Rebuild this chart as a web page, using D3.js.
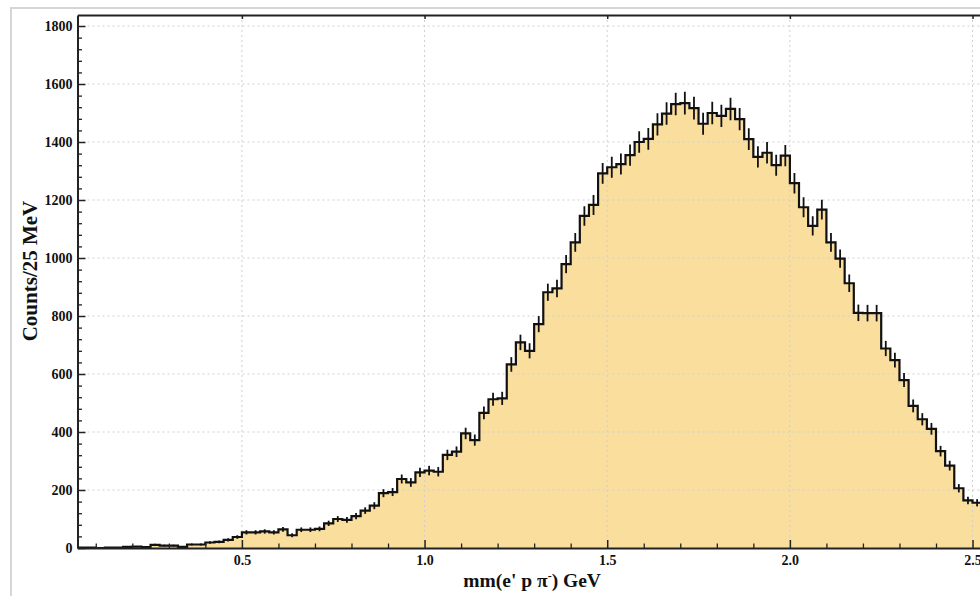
<!DOCTYPE html>
<html>
<head>
<meta charset="utf-8">
<script src="https://cdn.jsdelivr.net/npm/d3@7"></script>
<style>
  html, body { margin: 0; padding: 0; background: #fff; overflow: hidden; }
  svg { display: block; }
  text { font-family: "Liberation Serif", "Times New Roman", serif; font-weight: bold; fill: #111; }
</style>
</head>
<body>
<svg id="chart" width="980" height="596"></svg>
<script>
// ---------------- DATA ----------------
const binStart = 0.05;      // GeV, low edge of first bin
const binWidth = 0.025;     // GeV (25 MeV)
const counts = [
  1, 1, 0, 1, 1, 4, 5, 3, 11, 8,
  8, 4, 12, 12, 19, 21, 28, 38, 54, 54,
  57, 54, 64, 44, 63, 63, 66, 85, 100, 97,
  110, 129, 146, 189, 193, 238, 226, 261, 267, 263,
  321, 332, 395, 372, 466, 513, 516, 633, 709, 680,
  772, 882, 895, 979, 1054, 1145, 1183, 1292, 1313, 1324,
  1355, 1400, 1411, 1461, 1498, 1531, 1534, 1517, 1463, 1500,
  1490, 1514, 1479, 1410, 1349, 1363, 1320, 1353, 1258, 1175,
  1111, 1167, 1054, 998, 913, 811, 810, 810, 688, 648,
  579, 490, 444, 411, 334, 284, 206, 164, 156, 125
];
const xTicks = [0.5, 1.0, 1.5, 2.0, 2.5];
const xMinorTicks = d3.range(1, 26).map(i => +(i * 0.1).toFixed(1));
const yTicks = [0, 200, 400, 600, 800, 1000, 1200, 1400, 1600, 1800];
const yMinorTicks = d3.range(0, 46).map(i => i * 40);
const yTitle = "Counts/25 MeV";

// ---------------- LAYOUT ----------------
const svg = d3.select("#chart");
const plot = { left: 77.5, top: 15, bottom: 548, right: 990.8 };
const xDomain = [binStart, binStart + counts.length * binWidth];
const x = d3.scaleLinear().domain(xDomain).range([plot.left, plot.right]);
const y = d3.scaleLinear().domain([0, 1838]).range([plot.bottom, plot.top]);

const bins = counts.map((c, i) => ({ x0: binStart + i * binWidth, x1: binStart + (i + 1) * binWidth, c }));
const stepPts = bins.map(b => [b.x0, b.c]).concat([[bins[bins.length - 1].x1, bins[bins.length - 1].c]]);

// outer light frame
svg.append("rect")
  .attr("x", 11).attr("y", 8).attr("width", 1100).attr("height", 700)
  .attr("fill", "none").attr("stroke", "#d6d6d6").attr("stroke-width", 2);

svg.append("defs").append("clipPath").attr("id", "pc")
  .append("rect").attr("x", plot.left).attr("y", plot.top)
  .attr("width", plot.right - plot.left).attr("height", plot.bottom - plot.top);

const g = svg.append("g").attr("clip-path", "url(#pc)");

// fill
g.append("path")
  .datum(stepPts)
  .attr("fill", "#f9de9e")
  .attr("d", d3.area().curve(d3.curveStepAfter).x(d => x(d[0])).y0(y(0)).y1(d => y(d[1])));

// grid
g.selectAll("line.hg").data(yTicks.filter(v => v > 0)).enter().append("line")
  .attr("x1", plot.left).attr("x2", plot.right)
  .attr("y1", d => y(d)).attr("y2", d => y(d))
  .attr("stroke", "#cfcfcf").attr("stroke-width", 1).attr("stroke-dasharray", "2,3");
g.selectAll("line.vg").data(xTicks).enter().append("line")
  .attr("y1", plot.top).attr("y2", plot.bottom)
  .attr("x1", d => x(d)).attr("x2", d => x(d))
  .attr("stroke", "#cfcfcf").attr("stroke-width", 1).attr("stroke-dasharray", "2,3");

// step line
g.append("path")
  .datum(stepPts)
  .attr("fill", "none").attr("stroke", "#111").attr("stroke-width", 2.2)
  .attr("d", d3.line().curve(d3.curveStepAfter).x(d => x(d[0])).y(d => y(d[1])));

// error bars (Poisson)
g.selectAll("line.err").data(bins.filter(b => b.c > 0)).enter().append("line")
  .attr("x1", b => x((b.x0 + b.x1) / 2)).attr("x2", b => x((b.x0 + b.x1) / 2))
  .attr("y1", b => y(b.c - Math.sqrt(b.c))).attr("y2", b => y(b.c + Math.sqrt(b.c)))
  .attr("stroke", "#111").attr("stroke-width", 1.8);

// ---------------- AXES ----------------
function styleAxis(sel) {
  sel.select(".domain").attr("stroke", "#222").attr("stroke-width", 2);
  sel.selectAll(".tick line").attr("stroke", "#222").attr("stroke-width", 1.5);
  sel.selectAll(".tick text").style("font-size", "14px").attr("fill", "#111");
}

// minor ticks
svg.append("g").attr("transform", `translate(0,${plot.bottom})`)
  .call(d3.axisBottom(x).tickValues(xMinorTicks.filter(v => !xTicks.includes(v))).tickSize(-4.5).tickSizeOuter(0).tickFormat(""))
  .call(s => { s.select(".domain").remove(); s.selectAll(".tick line").attr("stroke", "#222").attr("stroke-width", 1.3); });
svg.append("g").attr("transform", `translate(${plot.left},0)`)
  .call(d3.axisLeft(y).tickValues(yMinorTicks.filter(v => v % 200 !== 0)).tickSize(-4.5).tickSizeOuter(0).tickFormat(""))
  .call(s => { s.select(".domain").remove(); s.selectAll(".tick line").attr("stroke", "#222").attr("stroke-width", 1.3); });

// major axes
svg.append("g").attr("transform", `translate(0,${plot.bottom})`)
  .call(d3.axisBottom(x).tickValues(xTicks).tickSize(-8).tickSizeOuter(0).tickPadding(7).tickFormat(d3.format(".1f")))
  .call(styleAxis);
svg.append("g").attr("transform", `translate(${plot.left},0)`)
  .call(d3.axisLeft(y).tickValues(yTicks).tickSize(-8).tickSizeOuter(0).tickPadding(5).tickFormat(d3.format("d")))
  .call(styleAxis);
svg.append("g").attr("transform", `translate(0,${plot.top})`)
  .call(d3.axisTop(x).tickValues(xTicks).tickSize(-4).tickSizeOuter(0).tickFormat(""))
  .call(styleAxis);

// titles
const xt = svg.append("text")
  .attr("x", (plot.left + plot.right) / 2 - 2).attr("y", 587)
  .attr("text-anchor", "middle").style("font-size", "19.5px");
xt.append("tspan").text("mm(e' p π");
xt.append("tspan").attr("dy", -7).style("font-size", "12px").text("-");
xt.append("tspan").attr("dy", 7).text(") GeV");

svg.append("text")
  .attr("transform", "rotate(-90)")
  .attr("x", -271).attr("y", 37)
  .attr("text-anchor", "middle").style("font-size", "21px")
  .text(yTitle);
</script>
</body>
</html>
